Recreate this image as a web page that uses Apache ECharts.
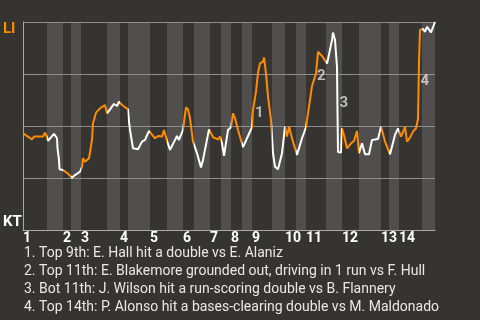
<!DOCTYPE html>
<html>
<head>
<meta charset="utf-8">
<script src="https://cdn.jsdelivr.net/npm/echarts@6/dist/echarts.min.js"></script>
<style>
html,body{margin:0;padding:0;background:#363431;}
#c{width:480px;height:320px;}
</style>
</head>
<body>
<div id="c"></div>
<script>
// ---- data ----
const plays = [0,9,11,20,22,24,25,31,34,34.5,36,36.5,40,44,49,52,57,59,60,62,66,69,70,73,77,82,84,87,91,94,96,99,105,106,107,110,115,119,122,126,132,135,139,141,144,147,154,156,160,163,165,167,170,174,178,180,186,190,195,197,199,201,205,208,210,212,215,220,224,229,230,233,235,237,240,241,243,245,248,250,252,255,259,262,264,266,269,274,279,283,285,289,291,293,295,299,301,304,305,309,310,312,314,314.5,315,318,319,321,324,328,331,334,336,339,342,346,349,355,358,362,367,372,375,378,380,382,384,387,390,393,395,395.5,396,397,400,402,404,408,412];
const liWinProb = [0.465,0.436,0.449,0.449,0.468,0.446,0.429,0.462,0.441,0.394,0.337,0.292,0.288,0.275,0.251,0.264,0.280,0.304,0.345,0.328,0.345,0.433,0.513,0.564,0.585,0.601,0.561,0.580,0.606,0.596,0.617,0.601,0.580,0.521,0.481,0.393,0.388,0.425,0.433,0.477,0.441,0.452,0.449,0.481,0.429,0.385,0.452,0.433,0.481,0.590,0.580,0.537,0.425,0.369,0.301,0.337,0.484,0.446,0.436,0.449,0.417,0.356,0.481,0.494,0.561,0.537,0.481,0.398,0.441,0.494,0.577,0.665,0.756,0.801,0.809,0.830,0.753,0.641,0.529,0.369,0.304,0.292,0.369,0.497,0.449,0.497,0.441,0.361,0.441,0.494,0.561,0.692,0.689,0.753,0.857,0.837,0.837,0.801,0.821,0.913,0.949,0.913,0.785,0.563,0.375,0.373,0.489,0.457,0.393,0.417,0.428,0.476,0.369,0.417,0.364,0.364,0.433,0.438,0.497,0.425,0.364,0.457,0.489,0.449,0.470,0.497,0.425,0.444,0.473,0.489,0.534,0.665,0.809,0.962,0.966,0.953,0.977,0.950,1.0];
const inningStarts = [0,40,58,97,127,160,187,208,229,262,283,319,358,376];
const bottomHalfStarts = [24,48,84,105,144,171,198,219,249,273,303,336,366,399];
const lastPlay = 412;
const inningLabels = ['1','2','3','4','5','6','7','8','9','10','11','12','13','14'];
const topTeam = 'LI';
const bottomTeam = 'KT';
const yTicks = [0,0.25,0.5,0.75,1];
const annotationLabels = ['1','2','3','4'];
const annotationPlays = [230,292,314.5,395.5];
const annotationProb = [0.560,0.740,0.608,0.716];
const notes = [
  '1. Top 9th: E. Hall hit a double vs E. Alaniz',
  '2. Top 11th: E. Blakemore grounded out, driving in 1 run vs F. Hull',
  '3. Bot 11th: J. Wilson hit a run-scoring double vs B. Flannery',
  '4. Top 14th: P. Alonso hit a bases-clearing double vs M. Maldonado'
];

// ---- build ----
const ORANGE = '#ff8c00', WHITE = '#ffffff';
const lineData = plays.map((p,i)=>[p, liWinProb[i]]);
const pieces = [];
const bands = [];
for (let i=0;i<inningStarts.length;i++){
  const end = i+1<inningStarts.length ? inningStarts[i+1] : lastPlay+1;
  pieces.push({gte: inningStarts[i], lt: bottomHalfStarts[i], color: ORANGE});
  pieces.push({gte: bottomHalfStarts[i], lt: end, color: WHITE});
  bands.push([{xAxis: bottomHalfStarts[i]}, {xAxis: i+1<inningStarts.length ? inningStarts[i+1] : lastPlay}]);
}
const font = 'Roboto';
const chart = echarts.init(document.getElementById('c'));
chart.setOption({
  animation: false,
  backgroundColor: '#363431',
  textStyle: {fontFamily: font},
  title: {
    text: notes.join('\n'),
    left: 24, top: 244, padding: 0,
    textStyle: {color:'#e8e8e8', fontSize:14, fontWeight:'normal', lineHeight:18, fontFamily: font}
  },
  grid: {left:23, right:45, top:22, bottom:90},
  xAxis: {
    type:'value', min:0, max:lastPlay,
    splitLine:{show:false},
    axisLine:{show:true, lineStyle:{color:'#aaaaaa', width:1}},
    axisTick:{show:false},
    axisLabel:{
      customValues: inningStarts,
      hideOverlap:false,
      align:'left', margin:1,
      color:'#ffffff', fontWeight:'bold', fontSize:14, fontFamily:font,
      formatter: v => { const k = inningStarts.indexOf(v); return k>=0 ? inningLabels[k] : ''; }
    },
    z: 2
  },
  yAxis: {
    type:'value', min:0, max:1, interval:0.25,
    splitLine:{show:true, lineStyle:{color:'#8e8e8e', width:1}},
    axisLine:{show:true, lineStyle:{color:'#aaaaaa', width:1}},
    axisTick:{show:false},
    axisLabel:{
      align:'left', margin:20,
      verticalAlignMaxLabel:'top', verticalAlignMinLabel:'bottom',
      fontWeight:'bold', fontSize:15, fontFamily:font,
      formatter: v => v===1 ? '{t|'+topTeam+'}' : (v===0 ? '{b|'+bottomTeam+'}' : ''),
      rich:{
        t:{color:ORANGE, fontWeight:'bold', fontSize:15, fontFamily:font},
        b:{color:'#ffffff', fontWeight:'bold', fontSize:15, fontFamily:font}
      }
    },
    z: 2
  },
  visualMap: {show:false, type:'piecewise', dimension:0, seriesIndex:1, pieces: pieces},
  series: [
    {
      type:'line', data:[], z:1, silent:true,
      markArea:{silent:true, itemStyle:{color:'#504f4d'}, data: bands}
    },
    {
      type:'line', data: lineData, showSymbol:false, z:3,
      lineStyle:{width:2}, silent:true
    },
    {
      type:'scatter', z:4, symbolSize:0, silent:true,
      data: annotationPlays.map((p,i)=>({value:[p, annotationProb[i]], name:annotationLabels[i]})),
      label:{show:true, position:'right', distance:2, formatter: d=>d.name,
        color:'#dddddd', fontSize:15, fontWeight:'bold', fontFamily:font}
    }
  ]
});
</script>
</body>
</html>
